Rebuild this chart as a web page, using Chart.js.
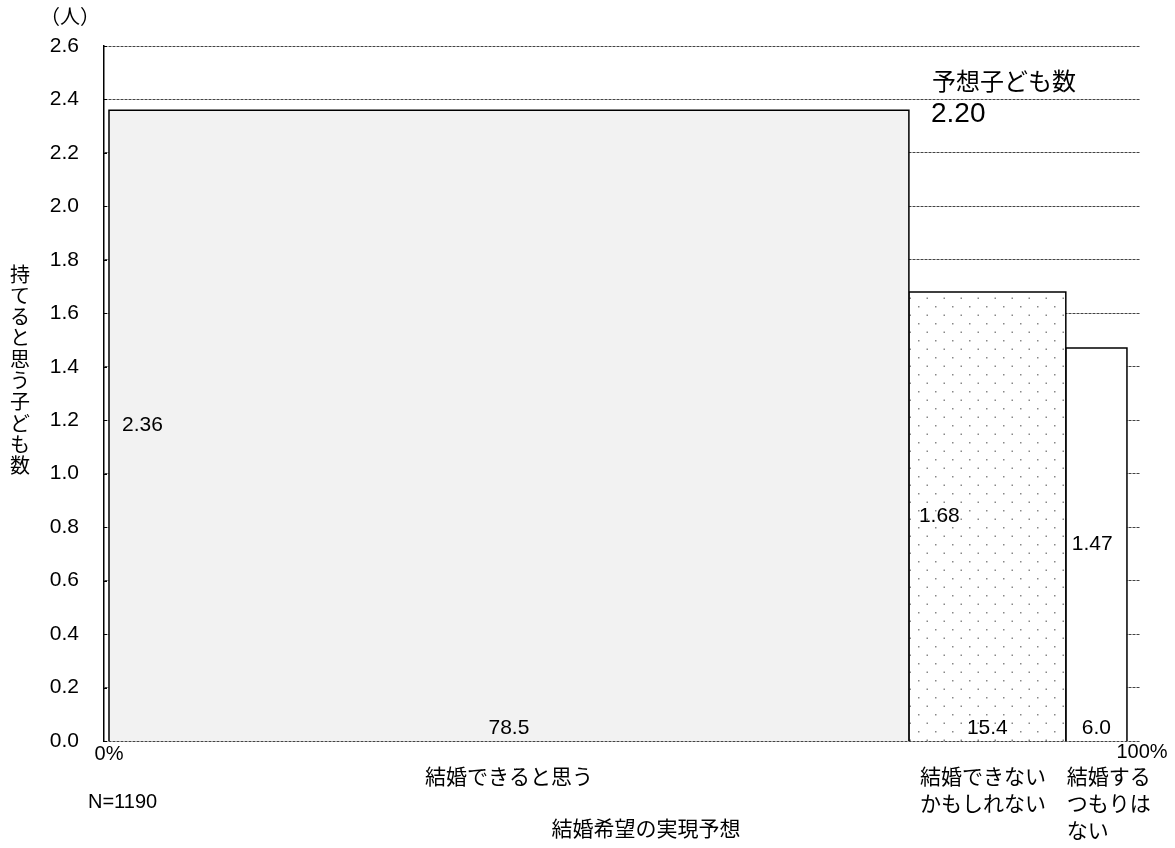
<!DOCTYPE html>
<html>
<head>
<meta charset="utf-8">
<script src="https://cdn.jsdelivr.net/npm/chart.js@4/dist/chart.umd.min.js"></script>
<style>
  html, body { margin: 0; padding: 0; background: #fff; }
</style>
</head>
<body>
<canvas id="myChart" width="1175" height="848"></canvas>
<script>
// data
let categories = ['結婚できると思う', '結婚できない\nかもしれない', '結婚する\nつもりは\nない'];
let shares = [78.5, 15.4, 6.0];          // % of respondents (bar widths)
let children = [2.36, 1.68, 1.47];       // expected number of children (bar heights)
let yTicks = [0, 0.2, 0.4, 0.6, 0.8, 1.0, 1.2, 1.4, 1.6, 1.8, 2.0, 2.2, 2.4, 2.6];
let expectedTotal = '2.20';
let sampleSize = 'N=1190';

const FONT = '"Liberation Sans", Arial, "Noto Sans CJK JP", sans-serif';

// dotted fill for the middle bar
function dotPattern() {
  let c = document.createElement('canvas');
  c.width = 17; c.height = 17;
  let g = c.getContext('2d');
  g.fillStyle = '#fff';
  g.fillRect(0, 0, 17, 17);
  g.fillStyle = '#888';
  g.fillRect(0, 0, 1.5, 1.5);
  g.fillRect(8.5, 8.5, 1.5, 1.5);
  return g.createPattern(c, 'repeat');
}

let fills = ['#f2f2f2', dotPattern(), '#ffffff'];

// each bar is a closed outline from 0 up, across, and back down
let start = 0;
let datasets = shares.map((w, i) => {
  let x0 = start, x1 = start + w;
  start = x1;
  return {
    label: categories[i],
    data: [{x: x0, y: 0}, {x: x0, y: children[i]}, {x: x1, y: children[i]}, {x: x1, y: 0}],
    showLine: true,
    fill: 'origin',
    backgroundColor: fills[i],
    borderColor: '#000',
    borderWidth: 1.5,
    pointRadius: 0,
    tension: 0
  };
});

const labelsPlugin = {
  id: 'labels',
  afterDatasetsDraw(chart) {
    let {ctx, scales: {x, y}} = chart;
    ctx.save();
    ctx.fillStyle = '#000';
    ctx.textBaseline = 'middle';
    let s = 0;
    shares.forEach((w, i) => {
      let left = x.getPixelForValue(s);
      let right = x.getPixelForValue(s + w);
      s += w;
      ctx.font = '21px ' + FONT;
      ctx.textAlign = 'left';
      ctx.fillText(children[i].toFixed(2), left + [13, 10, 6][i], y.getPixelForValue(children[i] / 2));
      ctx.textAlign = 'center';
      ctx.fillText(w.toFixed(1), (left + right) / 2, y.getPixelForValue(0) - 13);

      let lines = categories[i].split('\n');
      ctx.textAlign = i === 0 ? 'center' : 'left';
      let tx = i === 0 ? (left + right) / 2 : left + (i === 1 ? 11 : 1);
      lines.forEach((ln, j) => ctx.fillText(ln, tx, 778 + j * 27));
    });

    // short inner tick marks on the value axis
    ctx.strokeStyle = '#000';
    ctx.lineWidth = 1;
    let ax = chart.chartArea.left;
    yTicks.forEach(v => {
      let py = Math.round(y.getPixelForValue(v)) + 0.5;
      ctx.beginPath();
      ctx.moveTo(ax, py);
      ctx.lineTo(ax + 3, py);
      ctx.stroke();
    });
    ctx.restore();
  },
  afterDraw(chart) {
    let {ctx, scales: {x, y}} = chart;
    ctx.save();
    ctx.fillStyle = '#000';
    ctx.textBaseline = 'middle';
    ctx.font = '20px ' + FONT;
    ctx.textAlign = 'center';
    ctx.fillText('0%', x.getPixelForValue(0), 754);
    ctx.fillText('100%', x.getPixelForValue(100) + 14, 752);
    ctx.textAlign = 'left';
    ctx.fillText(sampleSize, 88, 802);
    ctx.fillText('（人）', 40, 18);

    ctx.font = '21px ' + FONT;
    ctx.textAlign = 'center';
    ctx.fillText('結婚希望の実現予想', 646, 830);

    ctx.textAlign = 'left';
    ctx.font = '24px ' + FONT;
    ctx.fillText('予想子ども数', 932, 83);
    ctx.font = '28px ' + FONT;
    ctx.fillText(expectedTotal, 931, 114);

    // vertical axis title, one character per line
    ctx.font = '20px ' + FONT;
    ctx.textAlign = 'center';
    let title = '持てると思う子ども数';
    [...title].forEach((ch, k) => ctx.fillText(ch, 20, 276 + k * 21.3));
    ctx.restore();
  }
};

let ctx = document.getElementById('myChart').getContext('2d');

let myChart = new Chart(ctx, {
  type: 'scatter',
  data: { datasets: datasets },
  options: {
    responsive: false,
    animation: false,
    devicePixelRatio: 1,
    layout: { padding: { left: 0, right: 35, top: 46, bottom: 0 } },
    plugins: {
      legend: { display: false },
      tooltip: { enabled: false }
    },
    scales: {
      x: {
        type: 'linear',
        min: -0.49,
        max: 101.18,
        ticks: { display: false },
        grid: { display: false },
        border: { display: false },
        afterFit: (scale) => { scale.height = 107; }
      },
      y: {
        min: 0,
        max: 2.6,
        afterBuildTicks: (scale) => { scale.ticks = yTicks.map(v => ({value: v})); },
        ticks: {
          color: '#000',
          padding: 25,
          font: { size: 21, family: FONT },
          callback: (v) => v.toFixed(1)
        },
        grid: { color: '#444', lineWidth: 1, drawTicks: false },
        border: { display: true, color: '#000', width: 1.5, dash: [3, 1] },
        afterFit: (scale) => { scale.width = 104; }
      }
    }
  },
  plugins: [labelsPlugin]
});
</script>
</body>
</html>
